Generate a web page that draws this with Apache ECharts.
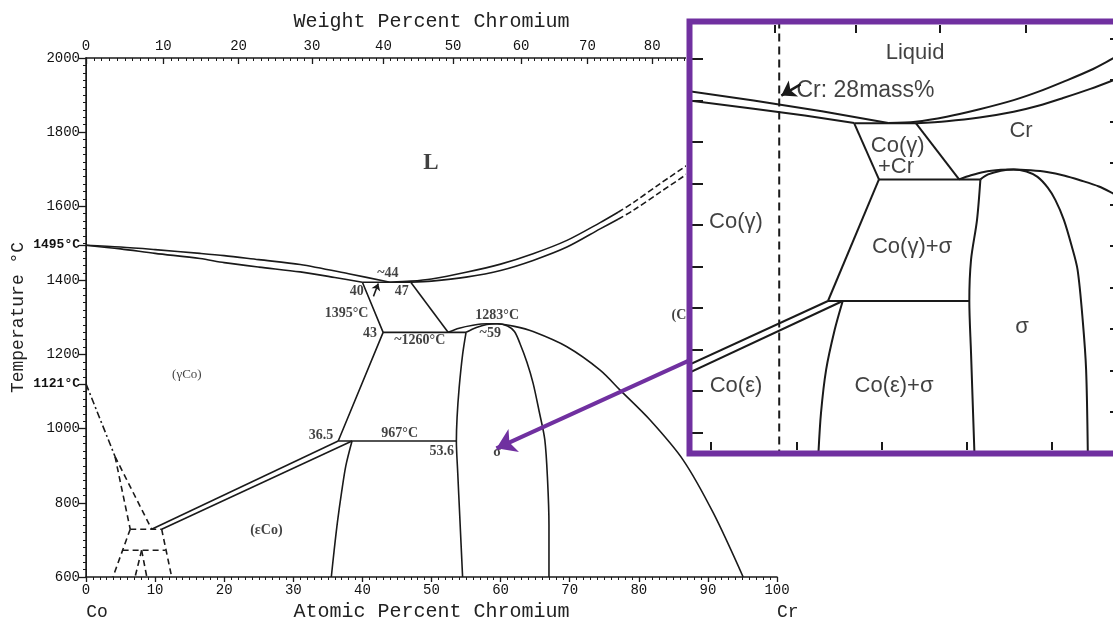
<!DOCTYPE html>
<html>
<head>
<meta charset="utf-8">
<script src="https://cdn.jsdelivr.net/npm/echarts@6/dist/echarts.min.js"></script>
<style>html,body{margin:0;padding:0;background:#fff}#c{width:1113px;height:623px}</style>
</head>
<body>
<div id="c"></div>
<script>
// ---------------- DATA (main diagram: atomic % Cr, temperature °C) ----------------
const liqLeft = [[0,1495],[5,1490],[10,1483],[16.5,1473],[20,1467],[25,1456],[31,1443],[38,1418],[44,1395]];
const solLeft = [[0,1495],[5,1485],[10,1473],[16.5,1459],[20,1448],[25,1436],[31,1423],[36,1408],[40,1395]];
const liqRight = [[44,1395],[47,1398],[50,1404],[55,1422],[60,1444],[64.7,1472],[69.6,1508],[74.4,1556],[77,1584]];
const liqRightDash = [[77,1584],[79.2,1610],[83,1660],[87.4,1716],[92,1775],[96,1825],[100,1863]];
const solRight = [[47,1395],[50,1398],[55,1409],[60,1427],[64.7,1454],[69.6,1490],[74.4,1539],[77,1565]];
const solRightDash = [[77,1565],[79.2,1589],[83,1637],[87.4,1693],[92,1758],[96,1812],[100,1863]];
const eutectic = [[40,1395],[47,1395]];
const gammaSolvus = [[40,1395],[43,1260],[36.5,967]];
const crBoundary = [[47,1395],[52.4,1260]];
const line1260 = [[43,1260],[55,1260]];
const line967 = [[36.5,967],[53.6,967]];
const sigmaLeft = [[55,1260],[54.5,1200],[54,1110],[53.7,1030],[53.6,967],[53.8,880],[54.1,760],[54.5,600]];
const sigmaDome = [[55,1260],[56.5,1273],[58,1281],[59.5,1283],[61,1277],[62,1262],[62.8,1230],[63.8,1180],[64.7,1123],[65.6,1045],[66.4,970],[66.8,860],[67,740],[67,600]];
const crSolvus = [[52.4,1260],[54,1271],[56,1279],[58,1283],[59.5,1283],[62,1276],[64.7,1262],[69.6,1221],[74.4,1158],[77.3,1104],[81.6,1024],[86.4,916],[90.8,772],[95.1,600]];
const gammaEpsU = [[9.5,729],[36.5,967]];
const gammaEpsL = [[10.95,729],[38.5,967]];
const epsBoundary = [[38.5,967],[37.6,900],[37,830],[36.4,750],[35.9,670],[35.5,600]];
const curie = [[0,1121],[4.2,925]];
const dashA = [[4.2,925],[6.4,729]];
const dashB = [[4.2,925],[9.5,729]];
const dashH1 = [[6.4,729],[10.95,729]];
const dashH2 = [[5.3,672],[11.5,672]];
const dashC = [[6.4,729],[3.9,600]];
const dashD = [[10.95,729],[12.4,600]];
const dashE = [[8.05,672],[7.1,600]];
const dashF = [[8.05,672],[8.8,600]];
const eutArrow = [[41.6,1357],[42.3,1392]];
const pointerArrow = [[87.4,1185],[59.4,947]];

// tick values
const wtMajor = [0,10,20,30,40,50,60,70,80];
const tempLabels = [600,800,1000,1121,1200,1400,1495,1600,1800,2000];

// annotation labels [text, at%, T, style]
const mainLabels = [
  ['L',49.9,1717,'big'], ['(γCo)',14.6,1145,'reg'], ['(εCo)',26.1,727,'bold'],
  ['~44',43.7,1420,'num'], ['40',39.2,1370,'num'], ['47',45.7,1370,'num'],
  ['1395°C',37.7,1312,'num'], ['43',41.1,1258,'num'], ['~1260°C',48.3,1237,'num'],
  ['1283°C',59.5,1307,'num'], ['~59',58.5,1257,'num'], ['36.5',34.0,983,'num'],
  ['967°C',45.4,988,'num'], ['53.6',51.5,938,'num'], ['σ',59.5,937,'bold'], ['(Cr)',86.6,1307,'bold']
];

// ---------------- DATA (inset: mass % Cr, temperature °C) ----------------
const liqL_in = [[17.5,1472],[25,1450],[33,1424],[40.8,1396]];
const solL_in = [[17.5,1450],[25,1430],[31,1414],[36.8,1396]];
const eut_in = [[36.8,1395],[44.05,1395]];
const trapL_in = [[36.8,1395],[39.7,1260]];
const trapR_in = [[44.05,1395],[49.1,1260]];
const line1260_in = [[39.7,1260],[51.6,1260]];
const gammaSolv_in = [[39.7,1260],[33.72,967]];
const line967_in = [[33.72,967],[50.3,967]];
const epsB_in = [[35.45,967],[34.5,897],[33.5,801],[32.9,697],[32.6,600]];
const gEpsU_in = [[17.5,814],[33.72,967]];
const gEpsL_in = [[17.5,795],[35.45,967]];
const sigmaL_in = [[51.6,1260],[51.2,1162],[50.5,1066],[50.3,967],[50.5,842],[50.9,600]];
const sigmaDome_in = [[51.6,1260],[52.5,1272],[54,1281],[55.5,1284],[57,1279],[58.3,1266],[59.5,1240],[60.4,1210],[61.4,1162],[62.3,1100],[63,1042],[63.6,921],[64,801],[64.2,600]];
const crSolv_in = [[49.1,1260],[50.5,1270],[52,1278],[54,1283],[55.5,1284],[57.5,1282],[59.4,1278],[61.5,1269],[63.3,1258],[65.5,1243],[67.2,1226],[68.5,1212]];
const liqR_in = [[40.8,1396],[44,1399],[47.65,1411],[51.5,1429],[55.5,1451],[58.5,1472],[61.3,1495],[64.5,1523],[67.2,1552],[68.5,1566]];
const solR_in = [[44.05,1395],[47.65,1400],[51.5,1409],[55.5,1423],[58.5,1438],[61.3,1456],[64.5,1478],[67.2,1499],[68.5,1510]];
const cr28_in = [[28,590],[28,1650]];
const cr28Arrow_in = [[30.5,1489],[28.25,1462]];
const insetBottomTicks = [20,30,40,50,60];
const insetTopTicksAt = [30,40,50,60,70];
const insetLeftTicks = [650,750,850,950,1050,1150,1250,1350,1450,1550];
const insetRightTicks = [700,800,900,1000,1100,1200,1300,1400,1500,1600];
const insetLabels = [
  ['Liquid',43.93,1565], ['Co(γ)',41.9,1341], ['+Cr',41.7,1290], ['Cr',56.36,1376],
  ['Co(γ)',22.93,1158], ['Co(γ)+σ',43.58,1098], ['σ',56.48,905], ['Co(ε)',22.93,763],
  ['Co(ε)+σ',41.47,763]
];
const cr28Label = ['Cr: 28mass%',29.97,1475];

// ---------------- helpers ----------------
const MW_CR = 51.996, MW_CO = 58.933;
const atFromWt = w => 100*(w/MW_CR)/((w/MW_CR)+((100-w)/MW_CO));
const wtFromAt = a => 100*(a*MW_CR)/(a*MW_CR+(100-a)*MW_CO);
const INK = '#1a1a1a';
const PURPLE = '#7030a0';
const MONO = 'Liberation Mono';
const SERIF = 'Liberation Serif';
const SANS = 'Liberation Sans';

function ln(data, o) {
  o = o || {};
  return {
    type:'line', data:data, symbol:'none', showSymbol:false, silent:true,
    xAxisIndex:o.inset?3:0, yAxisIndex:o.inset?2:0, z:o.inset?60:2,
    smooth:o.smooth||false, clip:true, animation:false,
    lineStyle:{color:INK, width:o.w||(o.inset?2:1.6), type:o.type||'solid'}
  };
}

const labelStyles = {
  big:{fontFamily:SERIF, fontSize:23, fontWeight:'bold'},
  reg:{fontFamily:SERIF, fontSize:13},
  bold:{fontFamily:SERIF, fontSize:14, fontWeight:'bold'},
  num:{fontFamily:SERIF, fontSize:14, fontWeight:'bold'}
};

const wtMinor = [];
for (let w = 1; w < 90; w++) if (w % 10) wtMinor.push(atFromWt(w));

const series = [
  ln(liqLeft,{smooth:0.3}), ln(solLeft,{smooth:0.3}),
  ln(liqRight,{smooth:0.3}), ln(solRight,{smooth:0.3}),
  ln(liqRightDash,{smooth:0.3,type:[6,3]}), ln(solRightDash,{smooth:0.3,type:[6,3]}),
  ln(eutectic), ln(gammaSolvus), ln(crBoundary), ln(line1260), ln(line967),
  ln(sigmaLeft,{smooth:0.3}), ln(sigmaDome,{smooth:0.3}), ln(crSolvus,{smooth:0.3}),
  ln(gammaEpsU), ln(gammaEpsL), ln(epsBoundary,{smooth:0.3}),
  ln(curie,{type:[7,3,2,3]}),
  ln(dashA,{type:[6,4]}), ln(dashB,{type:[6,4]}), ln(dashH1,{type:[6,4]}), ln(dashH2,{type:[6,4]}),
  ln(dashC,{type:[6,4]}), ln(dashD,{type:[6,4]}), ln(dashE,{type:[6,4]}), ln(dashF,{type:[6,4]}),
  {type:'lines', coordinateSystem:'cartesian2d', xAxisIndex:0, yAxisIndex:0, z:3, silent:true,
   symbol:['none','arrow'], symbolSize:7, lineStyle:{color:INK, width:1.5, opacity:1},
   data:[{coords:eutArrow}]},
  {type:'scatter', xAxisIndex:0, yAxisIndex:0, z:3, silent:true, symbolSize:1,
   itemStyle:{color:'rgba(0,0,0,0)'},
   data: mainLabels.map(l => ({value:[l[1],l[2]], label:Object.assign({show:true, formatter:l[0], position:'inside', color:'#111'}, labelStyles[l[3]])}))},
  // inset
  ln(liqL_in,{inset:true}), ln(solL_in,{inset:true}), ln(eut_in,{inset:true}),
  ln(trapL_in,{inset:true}), ln(trapR_in,{inset:true}), ln(line1260_in,{inset:true}),
  ln(gammaSolv_in,{inset:true}), ln(line967_in,{inset:true}), ln(epsB_in,{inset:true,smooth:0.3}),
  ln(gEpsU_in,{inset:true}), ln(gEpsL_in,{inset:true}),
  ln(sigmaL_in,{inset:true,smooth:0.3}), ln(sigmaDome_in,{inset:true,smooth:0.3}),
  ln(crSolv_in,{inset:true,smooth:0.3}), ln(liqR_in,{inset:true,smooth:0.3}), ln(solR_in,{inset:true,smooth:0.3}),
  ln(cr28_in,{inset:true,type:[8,5],w:2}),
  {type:'lines', coordinateSystem:'cartesian2d', xAxisIndex:3, yAxisIndex:2, z:61, silent:true,
   symbol:['none','arrow'], symbolSize:14, lineStyle:{color:INK, width:2.5, opacity:1},
   data:[{coords:cr28Arrow_in}]},
  {type:'scatter', xAxisIndex:3, yAxisIndex:2, z:62, silent:true, symbolSize:1,
   itemStyle:{color:'rgba(0,0,0,0)'},
   data: insetLabels.map(l => ({value:[l[1],l[2]], label:{show:true, formatter:l[0], position:'inside', color:'#111', fontFamily:SANS, fontSize:22}}))
     .concat([{value:[cr28Label[1],cr28Label[2]], label:{show:true, formatter:cr28Label[0], position:'right', distance:0, color:'#111', fontFamily:SANS, fontSize:23}}])},
  // pointer arrow
  {type:'lines', coordinateSystem:'cartesian2d', xAxisIndex:0, yAxisIndex:0, z:80, silent:true,
   symbol:['none','arrow'], symbolSize:19, lineStyle:{color:PURPLE, width:4, opacity:1},
   data:[{coords:pointerArrow}]}
];

const axisLineStyle = {lineStyle:{color:INK, width:1.5}};
const option = {
  animation:false,
  backgroundColor:'#fff',
  grid:[
    {left:86, top:58, width:691, height:519, containLabel:false, outerBoundsMode:'none'},
    {left:692, top:25, right:-5, bottom:173, containLabel:false, outerBoundsMode:'none'}
  ],
  xAxis:[
    {gridIndex:0, type:'value', min:0, max:100, interval:10, position:'bottom',
     axisLine:axisLineStyle, splitLine:{show:false},
     axisTick:{show:true, inside:false, length:5, lineStyle:{color:INK, width:1.3}},
     minorTick:{show:true, splitNumber:10, length:3, lineStyle:{color:INK, width:1}},
     axisLabel:{margin:6, color:'#111', fontFamily:MONO, fontSize:14},
     name:'Atomic Percent Chromium', nameLocation:'middle', nameGap:25, nameMoveOverlap:false,
     nameTextStyle:{fontFamily:MONO, fontSize:20, color:'#222'}},
    {gridIndex:0, type:'value', min:0, max:100, position:'top',
     axisLine:axisLineStyle, splitLine:{show:false},
     axisTick:{show:true, inside:true, length:6, customValues:wtMajor.concat([90]).map(atFromWt), lineStyle:{color:INK, width:1.3}},
     axisLabel:{show:true, margin:5, customValues:wtMajor.map(atFromWt), formatter:v => String(Math.round(wtFromAt(v))), color:'#111', fontFamily:MONO, fontSize:14},
     name:'Weight Percent Chromium', nameLocation:'middle', nameGap:26, nameMoveOverlap:false,
     nameTextStyle:{fontFamily:MONO, fontSize:20, color:'#222'}},
    {gridIndex:0, type:'value', min:0, max:100, position:'top',
     axisLine:{show:false}, splitLine:{show:false}, axisLabel:{show:false},
     axisTick:{show:true, inside:true, length:3, customValues:wtMinor, lineStyle:{color:INK, width:1}}},
    {gridIndex:1, type:'value', min:17.77, max:67.74, position:'bottom', z:60,
     axisLine:{show:false}, splitLine:{show:false}, axisLabel:{show:false},
     axisTick:{show:true, inside:true, length:8, customValues:insetBottomTicks, lineStyle:{color:INK, width:2}}},
    {gridIndex:1, type:'value', min:17.77, max:67.74, position:'top', z:60,
     axisLine:{show:false}, splitLine:{show:false}, axisLabel:{show:false},
     axisTick:{show:true, inside:true, length:8, customValues:insetTopTicksAt.map(wtFromAt), lineStyle:{color:INK, width:2}}}
  ],
  yAxis:[
    {gridIndex:0, type:'value', min:600, max:2000, interval:200, position:'left',
     axisLine:axisLineStyle, splitLine:{show:false},
     axisTick:{show:true, inside:false, length:7, customValues:tempLabels, lineStyle:{color:INK, width:1.3}},
     minorTick:{show:true, splitNumber:10, length:3, lineStyle:{color:INK, width:1}},
     axisLabel:{margin:6, customValues:tempLabels, color:'#111', fontFamily:MONO, fontSize:14,
       formatter:v => (v===1121||v===1495) ? '{b|'+v+'°C}' : String(v),
       rich:{b:{fontFamily:MONO, fontWeight:'bold', fontSize:13, color:'#111'}}},
     name:'Temperature °C', nameLocation:'middle', nameGap:59, nameRotate:90, nameMoveOverlap:false,
     nameTextStyle:{fontFamily:MONO, fontSize:18, color:'#222'}},
    {gridIndex:0, type:'value', min:600, max:2000, interval:200, position:'right',
     axisLine:{lineStyle:{color:INK, width:1}}, splitLine:{show:false}, axisLabel:{show:false},
     axisTick:{show:true, inside:true, length:4, lineStyle:{color:INK, width:1}},
     minorTick:{show:true, splitNumber:10, length:2, lineStyle:{color:INK, width:1}}},
    {gridIndex:1, type:'value', min:608, max:1632, position:'left', z:60,
     axisLine:{show:false}, splitLine:{show:false}, axisLabel:{show:false},
     axisTick:{show:true, inside:true, length:11, customValues:insetLeftTicks, lineStyle:{color:INK, width:2}}},
    {gridIndex:1, type:'value', min:608, max:1632, position:'right', z:60,
     axisLine:{show:false}, splitLine:{show:false}, axisLabel:{show:false},
     axisTick:{show:true, inside:true, length:8, customValues:insetRightTicks, lineStyle:{color:INK, width:2}}}
  ],
  graphic:[
    {type:'rect', z:50, silent:true, shape:{x:686, y:18, width:440, height:439}, style:{fill:'#fff'}},
    {type:'rect', z:70, silent:true, shape:{x:689.5, y:21.5, width:500, height:432}, style:{fill:'none', stroke:PURPLE, lineWidth:6}},
    {type:'text', z:5, silent:true, x:97, y:612, style:{text:'Co', font:'18px "Liberation Mono"', fill:'#222', textAlign:'center', textVerticalAlign:'middle'}},
    {type:'text', z:5, silent:true, x:777, y:612, style:{text:'Cr', font:'18px "Liberation Mono"', fill:'#222', textAlign:'left', textVerticalAlign:'middle'}}
  ],
  series:series
};
const chart = echarts.init(document.getElementById('c'), null, {renderer:'canvas'});
chart.setOption(option);
</script>
</body>
</html>
